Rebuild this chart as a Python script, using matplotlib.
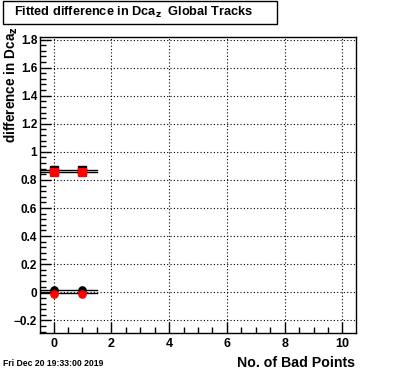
import matplotlib
matplotlib.use("Agg")
import matplotlib.pyplot as plt
from matplotlib.patches import Rectangle
from matplotlib.ticker import MultipleLocator

plt.rcParams['font.family'] = ['Liberation Sans', 'DejaVu Sans']

# Data
bad_points = [0, 1]
black_squares = [0.873, 0.873]
red_squares = [0.860, 0.860]
black_circles = [0.018, 0.018]
red_circles = [-0.010, -0.010]
fit_range = [-0.5, 1.5]
fit_levels = [0.871, 0.857, 0.016, -0.004]
y_ticks = [-0.2, 0, 0.2, 0.4, 0.6, 0.8, 1.0, 1.2, 1.4, 1.6, 1.8]
y_tick_labels = ['\u22120.2', '0', '0.2', '0.4', '0.6', '0.8', '1', '1.2', '1.4', '1.6', '1.8']
x_ticks = [0, 2, 4, 6, 8, 10]

W, H = 396, 372
fig = plt.figure(figsize=(W / 100, H / 100), dpi=100)
L, R, T, B = 40, 356, 37, 333
ax = fig.add_axes([L / W, 1 - B / H, (R - L) / W, (B - T) / H])

for lv in fit_levels:
    ax.plot(fit_range, [lv, lv], color='black', linewidth=1.0, zorder=3)

ax.plot(bad_points, black_squares, 's', color='black', markersize=5.2, zorder=4)
ax.plot(bad_points, red_squares, 's', color='red', markersize=5.2, zorder=5)
ax.plot(bad_points, black_circles, 'o', color='black', markersize=5.2, zorder=4)
ax.plot(bad_points, red_circles, 'o', color='red', markersize=5.2, zorder=5)

ax.set_xticks(x_ticks)
ax.set_xticklabels([str(v) for v in x_ticks], fontweight='bold', fontsize=9)
ax.set_yticks(y_ticks)
ax.set_yticklabels(y_tick_labels, fontweight='bold', fontsize=8.5)
ax.xaxis.set_minor_locator(MultipleLocator(0.5))
ax.yaxis.set_minor_locator(MultipleLocator(0.04))
ax.set_xlim(-0.47, 10.47)
ax.set_ylim(-0.29, 1.818)

ax.grid(True, which='major', color='black', linestyle=(0, (1, 2)), linewidth=0.8)
ax.set_axisbelow(True)

ax.tick_params(axis='both', which='major', direction='in', length=8, width=1,
               top=False, right=False)
ax.tick_params(axis='y', which='major', pad=2)
ax.tick_params(axis='both', which='minor', direction='in', length=4, width=1,
               top=False, right=False)
for sp in ax.spines.values():
    sp.set_linewidth(1.0)

# Title box
fig.patches.append(Rectangle((3 / W, 1 - 24 / H), 274 / W, 23 / H, transform=fig.transFigure,
                             facecolor='white', edgecolor='black', linewidth=1.0))
fig.text(134 / W, 1 - 12.5 / H, r'Fitted difference in Dca$_\mathbf{z}$  Global Tracks',
         ha='center', va='center', fontsize=9.2, fontweight='bold')

fig.text(11 / W, 1 - 26 / H, r'difference in Dca$_\mathbf{z}$', rotation=90,
         ha='center', va='top', fontsize=9.8, fontweight='bold')
fig.text(355 / W, 1 - 363 / H, 'No. of Bad Points', ha='right', va='center',
         fontsize=10.2, fontweight='bold')
fig.text(3 / W, 1 - 363 / H, 'Fri Dec 20 19:33:00 2019', ha='left', va='center',
         fontsize=6.2, fontweight='bold')

fig.savefig('out.png', dpi=100)
